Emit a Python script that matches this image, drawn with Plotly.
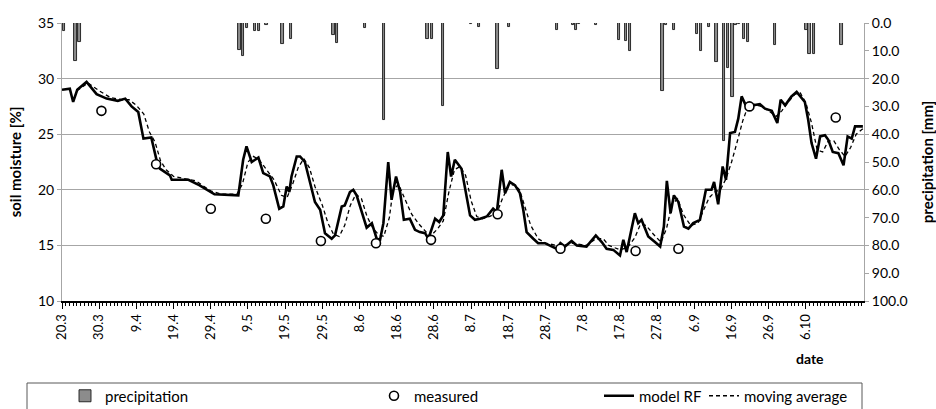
import plotly.graph_objects as go

# ---------------- data ----------------
tick_days = [0, 10, 20, 30, 40, 50, 60, 70, 80, 90, 100, 110, 120, 130, 140, 150, 160, 170, 180, 190, 200]
tick_labels = ["20.3", "30.3", "9.4", "19.4", "29.4", "9.5", "19.5", "29.5", "8.6", "18.6", "28.6",
               "8.7", "18.7", "28.7", "7.8", "17.8", "27.8", "6.9", "16.9", "26.9", "6.10"]

precip_days = [0.5, 3.6, 4.7, 47.7, 48.7, 49.8, 51.9, 53.0, 55.0, 59.3, 61.5, 73.0, 74.0, 81.5, 86.6,
               98.2, 99.4, 102.5, 109.9, 112.1, 117.1, 120.2, 133.0, 137.3, 138.2, 139.0, 143.5,
               149.7, 151.6, 152.7, 161.4, 162.4, 164.5, 170.7, 171.8, 173.9, 175.9, 178.0, 179.1,
               180.2, 181.1, 182.0, 183.3, 184.4, 191.6, 200.1, 201.0, 202.2, 209.6]
precip_mm = [2.8, 13.6, 6.7, 9.7, 11.9, 1.9, 3.0, 2.8, 0.6, 7.6, 5.9, 4.3, 7.1, 1.9, 34.9,
             5.8, 5.8, 29.9, 0.5, 1.5, 16.5, 1.5, 2.4, 0.7, 2.5, 0.4, 0.7,
             6.0, 6.5, 10.2, 24.3, 0.7, 2.6, 4.0, 10.0, 1.3, 13.9, 42.3, 16.1,
             26.7, 0.7, 0.5, 5.9, 6.7, 8.0, 2.5, 11.3, 11.3, 7.9]

measured_days = [10.6, 25.3, 40.0, 54.8, 69.6, 84.4, 99.2, 117.1, 134.0, 154.2, 165.7, 184.8, 208.0]
measured_vals = [27.1, 22.3, 18.3, 17.4, 15.4, 15.2, 15.5, 17.8, 14.7, 14.5, 14.7, 27.5, 26.5]

model_days = [0, 2.1, 3.0, 4.1, 6.6, 9.3, 12, 15, 17, 18.7, 20.5, 21.9, 24, 25.4, 26.3, 29, 29.5, 34, 37, 41,
              47.4, 48.7, 49.6, 51, 51.9, 52.8, 54.1, 55.9, 56.8, 58.4, 59.5, 60.4, 61.1, 61.7, 63.1, 64,
              65.3, 67.1, 68, 69.4, 70.7, 72.5, 73.4, 75.2, 76, 77.4, 78.3, 79.2, 80.6, 81.9, 83.3, 84.6,
              85.5, 86.4, 87.7, 88.6, 89.8, 90.9, 91.9, 93.5, 94.9, 96.2, 97.6, 98.5, 100.3, 101.4, 102.5,
              103.7, 104.6, 105.6, 107.4, 108.8, 109.7, 111, 112.4, 114.2, 115.9, 116.9, 118.2, 119.1,
              120.4, 121.8, 123.1, 124, 124.9, 126.7, 128, 129.8, 131.2, 133, 134, 135.2, 137, 138.4, 141,
              143.5, 145.1, 146.4, 148.2, 150, 150.9, 151.8, 154, 154.9, 155.8, 157.6, 159.4, 160.8, 161.8,
              162.6, 163.6, 164.5, 165.7, 167.2, 168.4, 169.7, 171.5, 173.1, 174.6, 175.3, 176.4, 177.6,
              178.5, 179.6, 180.9, 181.8, 182.7, 184.1, 185.8, 187.6, 189, 190.8, 192.3, 193.2, 194.4,
              196.1, 197.5, 199.7, 200.6, 201.5, 202.7, 203.8, 205.1, 206, 207.2, 208.7, 210.1, 211.2,
              212.3, 213.2, 215.3]
model_vals = [29.0, 29.1, 27.9, 29.0, 29.7, 28.6, 28.2, 28.0, 28.2, 27.5, 27.0, 24.6, 24.7, 22.7, 21.9, 21.3,
              20.9, 20.9, 20.4, 19.6,
              19.5, 22.7, 23.9, 22.5, 22.7, 22.9, 21.5, 21.2, 20.4, 18.3, 18.5, 20.3, 19.8, 21.2, 23.0, 23.0,
              22.5, 20.0, 18.9, 18.2, 16.1, 15.6, 15.9, 18.5, 18.6, 19.8, 20.0, 19.5, 17.9, 16.6, 17.0, 15.6,
              15.5, 17.0, 22.5, 19.1, 21.2, 19.8, 17.3, 17.4, 16.4, 16.2, 16.1, 15.6, 17.4, 17.1, 17.7,
              23.4, 21.2, 22.7, 21.9, 19.4, 17.7, 17.3, 17.4, 17.6, 18.3, 18.0, 21.8, 19.7,
              20.7, 20.4, 19.7, 18.2, 16.2, 15.6, 15.2, 15.2, 15.0, 14.7, 15.2, 14.9, 15.4, 15.0, 14.9,
              15.9, 15.3, 14.7, 14.6, 14.1, 15.5, 14.4, 17.9, 17.0, 17.3, 15.8, 15.3, 14.9, 16.7,
              20.8, 17.9, 19.5, 18.9, 16.7, 16.5, 17.0, 17.3, 20.0, 20.0, 20.7, 18.7, 22.1,
              20.9, 25.1, 25.2, 26.4, 28.4, 27.4, 27.6, 27.7, 27.3, 27.1, 26.0, 28.1, 27.6,
              28.4, 28.8, 27.9, 26.3, 24.2, 22.8, 24.8, 24.9, 24.5, 23.4, 23.3, 22.2, 24.8,
              24.6, 25.7, 25.7]

avg_days = [4, 7, 10, 13, 16, 18, 20, 22, 23.5, 25, 26.5, 28, 30, 33, 36, 40, 43, 47, 48.5, 50, 51.5, 53,
            55, 57, 59, 60.5, 62, 63.5, 65, 66.5, 68, 70, 71.5, 73, 74.5, 76, 77.5, 79, 80.5, 82, 83.5, 85,
            86.5, 88, 89, 90.5, 92, 94, 96, 98, 99, 101, 102.5, 104, 105.5, 107, 108.5, 110, 111.5, 113,
            115, 117, 118.5, 120, 121.5, 123, 124.5, 126, 128, 130, 133, 135, 137, 139, 141, 143.5, 145.5,
            147, 150, 152, 154, 155.5, 157, 159, 161, 162.5, 164, 165.5, 167, 169, 171, 172.5, 174, 175.5,
            177, 178.5, 180, 181.5, 183, 184.5, 186, 188, 190, 192, 193.5, 195, 197, 198.5, 200, 201.5,
            203, 204.5, 206, 207.5, 209, 210.5, 212, 213.5, 215.3]
avg_vals = [28.9, 29.6, 28.9, 28.3, 28.1, 28.1, 27.6, 26.8, 25.2, 24.3, 22.6, 21.8, 21.2, 21.0, 20.8, 19.9,
            19.6, 19.6, 20.5, 22.5, 23.0, 22.7, 21.8, 20.9, 19.5, 19.3, 20.5, 22.0, 22.8, 22.0, 20.3, 18.6,
            17.0, 16.0, 15.8, 16.8, 18.6, 19.6, 19.2, 17.6, 16.6, 16.0, 15.8, 17.5, 20.0, 20.5, 19.3, 17.8,
            16.9, 16.2, 15.8, 16.5, 17.2, 19.8, 21.8, 22.1, 21.3, 19.0, 17.6, 17.4, 17.6, 18.0, 19.3, 20.3,
            20.5, 20.0, 18.5, 16.8, 15.6, 15.2, 15.0, 15.0, 15.2, 15.1, 15.0, 15.6, 15.6, 15.0, 14.6, 14.8,
            15.7, 16.9, 16.8, 16.0, 15.3, 16.5, 18.7, 19.2, 17.8, 16.8, 17.0, 18.2, 19.3, 19.8, 20.0, 21.0,
            22.5, 24.3, 26.2, 27.6, 27.7, 27.5, 27.1, 26.6, 27.1, 27.8, 28.6, 28.7, 27.8, 26.0, 23.6, 23.4,
            24.4, 24.4, 23.6, 23.0, 23.8, 25.0, 25.5]

# ---------------- figure ----------------
FONT = "Lato, 'Open Sans', sans-serif"
W, H = 936, 409
L, R, T, B = 62, 72, 23, 108

fig = go.Figure()
fig.add_trace(go.Bar(x=precip_days, y=precip_mm, yaxis="y2", name="precipitation",
                     width=0.65, marker=dict(color="#8c8c8c", line=dict(color="#1a1a1a", width=0.9)),
                     legend="legend"))
fig.add_trace(go.Scatter(x=model_days, y=model_vals, mode="lines", name="model RF",
                         line=dict(color="black", width=2.6), legend="legend3"))
fig.add_trace(go.Scatter(x=avg_days, y=avg_vals, mode="lines", name="moving average",
                         line=dict(color="black", width=1.3, dash="4px,3px"), legend="legend4"))
fig.add_trace(go.Scatter(x=measured_days, y=measured_vals, mode="markers", name="measured",
                         marker=dict(symbol="circle", size=9, color="white",
                                     line=dict(color="black", width=1.6)), legend="legend2"))

def leg(xpx):
    return dict(xref="container", yref="container", x=xpx / W, y=(H - 396) / H,
                xanchor="left", yanchor="middle", bgcolor="rgba(0,0,0,0)", borderwidth=0,
                font=dict(family=FONT, size=15, color="black"), orientation="h")

fig.update_layout(
    width=W, height=H,
    margin=dict(l=L, r=R, t=T, b=B, autoexpand=False),
    paper_bgcolor="white", plot_bgcolor="white",
    font=dict(family=FONT, size=12, color="black"),
    showlegend=True,
    legend=leg(108 - 43),
    legend2=leg(417 - 43),
    legend3=leg(642 - 43),
    legend4=leg(747 - 43),
    bargap=0,
    xaxis=dict(range=[0, 215.6], tickmode="array", tickvals=tick_days, ticktext=tick_labels,
               tickangle=-90, ticks="outside", ticklen=6, tickcolor="black", tickwidth=1,
               showline=True, linecolor="black", linewidth=2, showgrid=False, zeroline=False,
               tickfont=dict(size=13), automargin=False,
               minor=dict(tickmode="linear", tick0=0, dtick=1, ticks="outside", ticklen=3,
                          tickcolor="black", showgrid=False)),
    yaxis=dict(range=[10, 35], dtick=5, showgrid=True, gridcolor="#a6a6a6", gridwidth=1,
               showline=True, linecolor="#a6a6a6", ticks="outside", ticklen=4, tickcolor="#a6a6a6",
               zeroline=False, tickfont=dict(size=14), automargin=False,
               title=dict(text="<b>soil moisture [%]</b>", font=dict(size=15), standoff=12)),
    yaxis2=dict(range=[100, 0], dtick=10, tickformat=".1f", overlaying="y", side="right",
                showgrid=False, showline=True, linecolor="#a6a6a6", ticks="outside", ticklen=4,
                tickcolor="#a6a6a6", zeroline=False, tickfont=dict(size=14), automargin=False,
                title=dict(text="<b>precipitation [mm]</b>", font=dict(size=15), standoff=19)),
    shapes=[dict(type="rect", xref="paper", yref="paper",
                 x0=(27 - L) / 802, x1=(862 - L) / 802,
                 y0=(301 - 412) / 278, y1=(301 - 383) / 278,
                 line=dict(color="#595959", width=1), fillcolor="rgba(0,0,0,0)", layer="below")],
    annotations=[dict(text="<b>date</b>", xref="paper", yref="paper",
                      x=(810 - L) / 802, y=(301 - 358) / 278, showarrow=False,
                      font=dict(size=14), xanchor="center", yanchor="middle")],
)

fig.write_html("out.html")
